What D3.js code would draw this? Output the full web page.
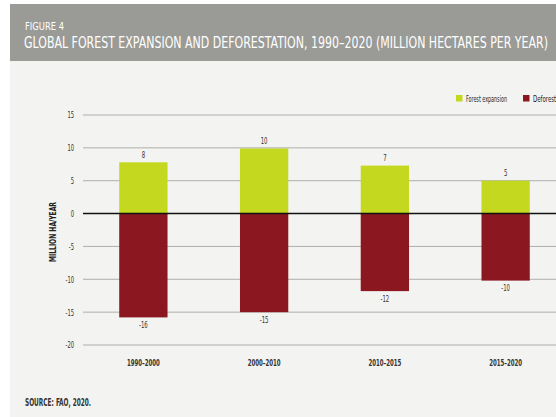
<!DOCTYPE html>
<html><head><meta charset="utf-8">
<script src="https://cdn.jsdelivr.net/npm/d3@7"></script>
<style>
html,body{margin:0;padding:0;background:#fff;}
svg{display:block;}
text{font-family:"DejaVu Sans Condensed","DejaVu Sans",sans-serif;font-stretch:condensed;}
</style></head>
<body>
<svg id="c" width="556" height="417"></svg>
<script>
const categories = ["1990–2000","2000–2010","2010–2015","2015–2020"];
const expansion = [7.8, 9.9, 7.3, 5.0];
const deforestation = [-15.8, -15.0, -11.8, -10.2];
const yTicks = [15,10,5,0,-5,-10,-15,-20];
const seriesNames = ["Forest expansion","Deforestation"];
const colors = ["#c3d81f","#8b1820"];

const svg = d3.select("#c");
const FF = "DejaVu Sans Condensed, DejaVu Sans, sans-serif";
function fit(sel, len){ sel.attr("textLength",len).attr("lengthAdjust","spacingAndGlyphs"); return sel; }
function squeeze(sel, f){ sel.each(function(){ const w=this.getComputedTextLength(); this.setAttribute("textLength", w*f); this.setAttribute("lengthAdjust","spacingAndGlyphs"); }); }

// page background
svg.append("rect").attr("x",10).attr("y",0).attr("width",546).attr("height",417).attr("fill","#f3f3f1");
svg.append("rect").attr("x",0).attr("y",0).attr("width",556).attr("height",4).attr("fill","#fff");
// banner
svg.append("rect").attr("x",10).attr("y",4).attr("width",546).attr("height",57).attr("fill","#9a9b96");
fit(svg.append("text").attr("x",25).attr("y",30).attr("fill","#fff").attr("font-size",10).text("FIGURE 4"),39);
fit(svg.append("text").attr("x",24).attr("y",47.5).attr("fill","#fff").attr("font-size",16.5)
  .text("GLOBAL FOREST EXPANSION AND DEFORESTATION, 1990–2020 (MILLION HECTARES PER YEAR)"),524);

const y = d3.scaleLinear().domain([-20,15]).range([345,115]);
const x = d3.scaleBand().domain(categories).range([83,566]).paddingInner(0.6).paddingOuter(0.3);

// gridlines
svg.append("g").selectAll("line").data(yTicks.filter(d=>d!==0)).join("line")
  .attr("x1",83).attr("x2",556).attr("y1",d=>y(d)).attr("y2",d=>y(d))
  .attr("stroke","#aeaeab").attr("stroke-width",1);

// y axis labels
const yAxis = d3.axisLeft(y).tickValues(yTicks).tickSize(0).tickPadding(8).tickFormat(d=>String(d));
const ya = svg.append("g").attr("transform","translate(82,0)").call(yAxis);
ya.select(".domain").remove();
ya.selectAll("text").attr("font-size",8.5).attr("fill","#333").attr("font-family",FF).attr("dy","0.34em");
squeeze(ya.selectAll("text"),0.68);

fit(svg.append("text").attr("transform","translate(56,232) rotate(-90)").attr("text-anchor","middle")
  .attr("font-size",8.5).attr("font-weight","bold").attr("fill","#222").text("MILLION HA/YEAR"),60);

// bars
svg.selectAll("rect.exp").data(expansion).join("rect").attr("class","exp")
  .attr("x",(d,i)=>x(categories[i])).attr("width",x.bandwidth())
  .attr("y",d=>y(d)).attr("height",d=>y(0)-y(d)).attr("fill",colors[0]);
svg.selectAll("rect.def").data(deforestation).join("rect").attr("class","def")
  .attr("x",(d,i)=>x(categories[i])).attr("width",x.bandwidth())
  .attr("y",y(0)).attr("height",d=>y(d)-y(0)).attr("fill",colors[1]);

// value labels
const ve = svg.selectAll("text.ve").data(expansion).join("text").attr("class","ve")
  .attr("x",(d,i)=>x(categories[i])+x.bandwidth()/2).attr("y",d=>y(d)-4.5)
  .attr("text-anchor","middle").attr("font-size",8.5).attr("fill","#333").text(d=>String(Math.round(d)));
const vd = svg.selectAll("text.vd").data(deforestation).join("text").attr("class","vd")
  .attr("x",(d,i)=>x(categories[i])+x.bandwidth()/2).attr("y",d=>y(d)+10.5)
  .attr("text-anchor","middle").attr("font-size",8.5).attr("fill","#333").text(d=>String(Math.round(d)));
squeeze(ve,0.7); squeeze(vd,0.7);

// zero line
svg.append("line").attr("x1",83).attr("x2",556).attr("y1",y(0)).attr("y2",y(0))
  .attr("stroke","#111").attr("stroke-width",1.6);

// x labels
const xAxis = d3.axisBottom(x).tickSize(0).tickPadding(0);
const xa = svg.append("g").attr("transform","translate(0,366)").call(xAxis);
xa.select(".domain").remove();
xa.selectAll("text").attr("font-size",9).attr("font-weight","bold").attr("fill","#333").attr("dy","0")
  .attr("font-family",FF);
fit(xa.selectAll("text"),33);

// legend
const lx = [456, 523];
const lw = [41, 37];
seriesNames.forEach((n,i)=>{
  svg.append("rect").attr("x",lx[i]).attr("y",95).attr("width",6.5).attr("height",6.5).attr("fill",colors[i]);
  fit(svg.append("text").attr("x",lx[i]+10).attr("y",101.5).attr("font-size",8).attr("fill","#222").text(n),lw[i]);
});

fit(svg.append("text").attr("x",25).attr("y",406).attr("font-size",10.5).attr("font-weight","bold").attr("fill","#333").text("SOURCE: FAO, 2020."),66);
</script>
</body></html>
